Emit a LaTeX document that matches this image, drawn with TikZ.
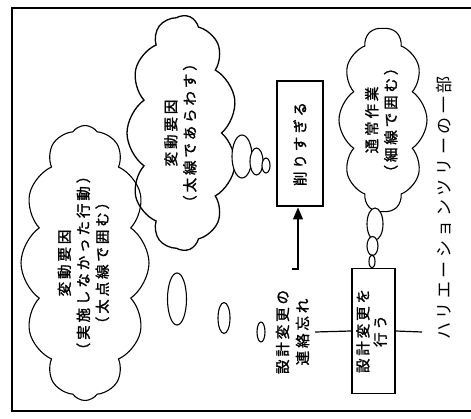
\documentclass[tikz,border=0pt]{standalone}
\usepackage{fontspec}
\setmainfont{Noto Sans CJK JP}
\newfontfamily\titlefont[Scale=1.7, LetterSpace=21]{Noto Sans CJK JP}
\newfontfamily\cjkbold[Scale=1.45, FakeBold=1.5, LetterSpace=20]{Noto Sans CJK JP}
\usetikzlibrary{shapes.symbols,arrows.meta}
\newcommand{\lns}[1]{\begin{tabular}{@{}c@{}}#1\end{tabular}}
\begin{document}
\begin{tikzpicture}[x=1pt,y=-1pt,
  cloudbox/.style={cloud, draw, cloud puffs=12, cloud puff arc=110, cloud ignores aspect,
    rotate=90, inner sep=0pt, line width=1.1pt,
    font=\cjkbold\fontsize{10}{19}\selectfont},
  rectbox/.style={draw, rotate=90, inner sep=0pt,
    font=\cjkbold\fontsize{10}{17}\selectfont},
  bubble/.style={draw, fill=white, line width=1.1pt},
  plain/.style={line width=1.2pt}]
\useasboundingbox (0,0) rectangle (471,419);
% frame
\draw[line width=1.5pt] (471,8) -- (12,8) -- (12,411) -- (471,411);
% clouds
\node[cloudbox, minimum width=275pt, minimum height=128pt] (c1) at (85,263)
  {\lns{変動要因\\（実施しなかった行動）\\（太点線で囲む）}};
\node[cloudbox, cloud puffs=11, line width=1.3pt, minimum width=235pt, minimum height=110pt] (c2) at (182,133)
  {\lns{変動要因\\（太線であらわす）}};
\node[cloudbox, cloud puffs=10, minimum width=184pt, minimum height=88pt] (c3) at (383,120)
  {\lns{通常作業\\（細線で囲む）}};
% thought bubbles
\draw[bubble] (242,156.5) ellipse (10 and 21.5);
\draw[bubble] (256.5,161.5) ellipse (6.5 and 13.5);
\draw[bubble] (266,165.5) ellipse (4 and 7.5);
\draw[bubble] (375,224) ellipse (8 and 16);
\draw[bubble] (372.5,246) ellipse (5.5 and 9.5);
\draw[bubble] (372,261.5) ellipse (3 and 6.5);
\draw[bubble] (177,299) ellipse (9.5 and 26);
\draw[bubble] (224,318) ellipse (6 and 15.5);
\draw[bubble] (261,332) ellipse (4 and 10);
% boxes
\node[rectbox, line width=2pt, minimum width=125pt, minimum height=46pt] (b1) at (300,144) {削りすぎる};
\node[rectbox, line width=1.3pt, minimum width=125pt, minimum height=43pt] (b2) at (373.5,331) {\lns{設計変更を\\行う}};
\node[rotate=90, inner sep=1pt, font=\cjkbold\fontsize{10}{20}\selectfont] (t1) at (294,332) {\lns{設計変更の\\連絡忘れ}};
% connectors
\coordinate (h0) at (292,269);
\coordinate (h1) at (298,269);
\coordinate (e0) at (422,332);
\draw[plain, -{Triangle[length=12pt,width=10pt]}] (h0) -- (h1) -- (h1 |- b1.west);
\draw[plain] (t1.south) -- (b2.north);
\draw[plain] (b2.south) -- (e0);
% title
\node[rotate=90, font=\titlefont] (title) at (444,208) {ハリエーションツリーの一部};
\end{tikzpicture}
\end{document}
